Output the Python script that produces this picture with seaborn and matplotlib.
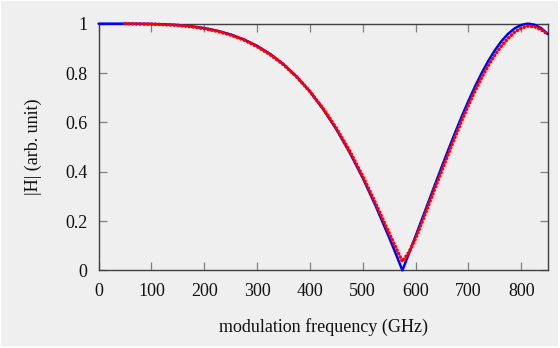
import matplotlib
matplotlib.use("Agg")
import matplotlib.pyplot as plt
from matplotlib.patches import Rectangle
import seaborn as sns

# Frequency grid (GHz) and magnitude responses
freq = [0, 25, 50, 75, 100, 125, 150, 175, 200, 225, 250, 275, 300, 325,
        350, 375, 400, 425, 450, 475, 500, 525, 550, 562.5, 575, 587.5,
        600, 612.5, 625, 637.5, 650, 662.5, 675, 687.5, 700, 712.5, 725,
        737.5, 750, 762.5, 775, 787.5, 800, 812.5, 825, 837.5, 850]

h_model = [1.0, 1.0, 0.9999, 0.9996, 0.9989, 0.9973, 0.9943, 0.9894,
           0.9820, 0.9712, 0.9562, 0.9362, 0.9100, 0.8767, 0.8354,
           0.7850, 0.7248, 0.6539, 0.5720, 0.4786, 0.3744, 0.2585,
           0.1331, 0.0675, 0.0, 0.0690, 0.1391, 0.2100, 0.2812, 0.3523,
           0.4228, 0.4920, 0.5596, 0.6248, 0.6868, 0.7453, 0.7995,
           0.8487, 0.8920, 0.9290, 0.9588, 0.9810, 0.9949, 1.0,
           0.9958, 0.9819, 0.9580]

freq_meas = freq[2:]
h_meas = [1.0, 0.999, 0.998, 0.996, 0.993, 0.988, 0.980, 0.969, 0.954,
          0.934, 0.907, 0.874, 0.834, 0.784, 0.725, 0.656, 0.576, 0.484,
          0.381, 0.268, 0.150, 0.092, 0.036, 0.074, 0.130, 0.198, 0.268,
          0.338, 0.407, 0.476, 0.543, 0.608, 0.670, 0.728, 0.782, 0.830,
          0.873, 0.910, 0.940, 0.966, 0.982, 0.990, 0.988, 0.976, 0.958]

xticks = [0, 100, 200, 300, 400, 500, 600, 700, 800]
yticks = [0, 0.2, 0.4, 0.6, 0.8, 1]
yticklabels = ["0", "0.2", "0.4", "0.6", "0.8", "1"]

sns.set_theme(style="ticks")
bg = "#efefef"
plt.rcParams["font.family"] = ["Liberation Serif", "DejaVu Serif"]
plt.rcParams["font.size"] = 13

fig = plt.figure(figsize=(5.6, 3.48), dpi=100, facecolor="white")
fig.patches.append(Rectangle((1 / 560, 2 / 348), 1 - 3 / 560, 1 - 3 / 348,
                             transform=fig.transFigure, facecolor=bg,
                             edgecolor="none", zorder=-10))
ax = fig.add_axes([0.176, 0.223, 0.802, 0.709])
ax.set_facecolor(bg)

sns.lineplot(x=freq, y=h_model, ax=ax, color="#0000ff", linewidth=1.8,
             estimator=None, sort=False, zorder=3, clip_on=False)
sns.lineplot(x=freq_meas, y=h_meas, ax=ax, color="#ff0000", linewidth=2.6,
             estimator=None, sort=False, zorder=4, clip_on=False,
             linestyle=(0, (0.05, 1.0)), dash_capstyle="round")

ax.set_xlim(0, 850)
ax.set_ylim(0, 1)
ax.set_xticks(xticks)
ax.set_xticklabels([str(t) for t in xticks])
ax.set_yticks(yticks)
ax.set_yticklabels(yticklabels)

for side in ["left", "right", "top", "bottom"]:
    ax.spines[side].set_visible(True)
    ax.spines[side].set_color("#404040")
    ax.spines[side].set_linewidth(1.0)

ax.tick_params(axis="both", direction="in", length=6, width=0.9,
               color="#808080", labelsize=13, labelcolor="#111111",
               top=True, right=True)
ax.tick_params(axis="x", pad=9)
ax.tick_params(axis="y", pad=8)

ax.set_xlabel("modulation frequency (GHz)", fontsize=13, color="#111111",
              labelpad=13)
ax.set_ylabel("|H| (arb. unit)", fontsize=13, color="#111111", labelpad=17)

fig.savefig("out.png", dpi=100, facecolor=fig.get_facecolor())
